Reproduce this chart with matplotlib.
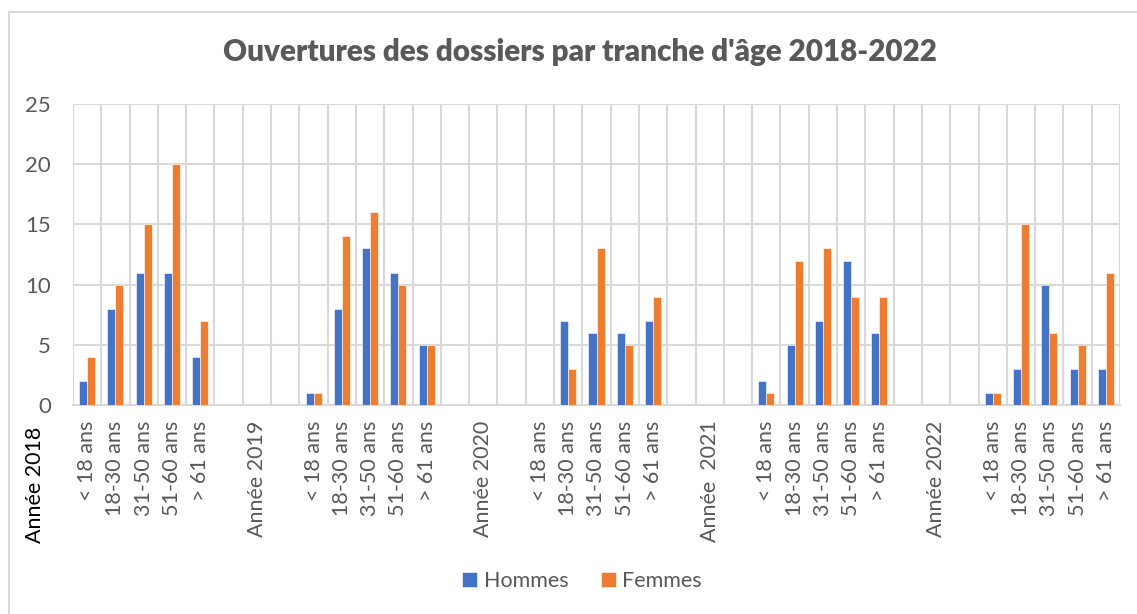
import matplotlib.pyplot as plt
import numpy as np
from matplotlib.lines import Line2D

plt.rcParams['font.family'] = ['Lato', 'DejaVu Sans']

# Catégories de l'axe X (les cases vides servent d'espacement entre années)
categories = ['< 18 ans', '18-30 ans', '31-50 ans', '51-60 ans', '> 61 ans', '', 'Année 2019', '',
              '< 18 ans', '18-30 ans', '31-50 ans', '51-60 ans', '> 61 ans', '', 'Année 2020', '',
              '< 18 ans', '18-30 ans', '31-50 ans', '51-60 ans', '> 61 ans', '', 'Année  2021', '',
              '< 18 ans', '18-30 ans', '31-50 ans', '51-60 ans', '> 61 ans', '', 'Année 2022', '',
              '< 18 ans', '18-30 ans', '31-50 ans', '51-60 ans', '> 61 ans']

hommes = [2, 8, 11, 11, 4, 0, 0, 0,
          1, 8, 13, 11, 5, 0, 0, 0,
          0, 7, 6, 6, 7, 0, 0, 0,
          2, 5, 7, 12, 6, 0, 0, 0,
          1, 3, 10, 3, 3]
femmes = [4, 10, 15, 20, 7, 0, 0, 0,
          1, 14, 16, 10, 5, 0, 0, 0,
          0, 3, 13, 5, 9, 0, 0, 0,
          1, 12, 13, 9, 9, 0, 0, 0,
          1, 15, 6, 5, 11]

gris = '#595959'
grille = '#D9D9D9'

W, H = 1137, 614
fig = plt.figure(figsize=(W / 100, H / 100), dpi=100)
ax = fig.add_axes([73 / W, 1 - 405 / H, (1120 - 73) / W, (405 - 104) / H])

x = np.arange(len(categories))
w = 0.283
ax.bar(x - w / 2, hommes, w, color='#4472C4', edgecolor='white', linewidth=0.4, label='Hommes', zorder=3)
ax.bar(x + w / 2, femmes, w, color='#ED7D31', edgecolor='white', linewidth=0.4, label='Femmes', zorder=3)

ax.set_xlim(-0.5, len(categories) - 0.5)
ax.set_ylim(0, 25)
ax.set_yticks(range(0, 26, 5))
ax.set_xticks(x)
ax.set_xticklabels(categories, rotation=90, va='top')
ax.set_xticks(np.arange(-0.5, len(categories)), minor=True)
ax.tick_params(axis='x', which='both', length=0, pad=11, labelsize=15.5, labelcolor=gris)
ax.tick_params(axis='y', length=0, pad=16, labelsize=16, labelcolor=gris)
ax.grid(axis='x', which='minor', color=grille, linewidth=1.5, zorder=0)
ax.grid(axis='y', which='major', color=grille, linewidth=1.5, zorder=0)
for s in ['top', 'right', 'left']:
    ax.spines[s].set_visible(False)
ax.spines['bottom'].set_color(grille)
ax.spines['bottom'].set_linewidth(1.5)

# libellé de la première année, placé hors de la zone de tracé
ax.text(-1.85, -1.8, 'Année 2018', rotation=90, ha='center', va='top',
        fontsize=15.5, color='black', clip_on=False)

fig.text(580 / W, 1 - 52 / H, "Ouvertures des dossiers par tranche d'âge 2018-2022",
         ha='center', va='center', fontsize=21.3, fontweight='heavy', color=gris)

fig.legend(loc='center', bbox_to_anchor=(582 / W, 1 - 581 / H), ncol=2, frameon=False,
           fontsize=15.5, labelcolor=gris, handlelength=0.7, handleheight=0.7,
           handletextpad=0.3, columnspacing=1.5)

# cadre du graphique
fig.add_artist(Line2D([9 / W, 9 / W], [0, 1 - 12 / H], color=grille, linewidth=1.5))
fig.add_artist(Line2D([9 / W, 1], [1 - 12 / H, 1 - 12 / H], color=grille, linewidth=1.5))

fig.savefig('out.png', dpi=100, facecolor='white')
